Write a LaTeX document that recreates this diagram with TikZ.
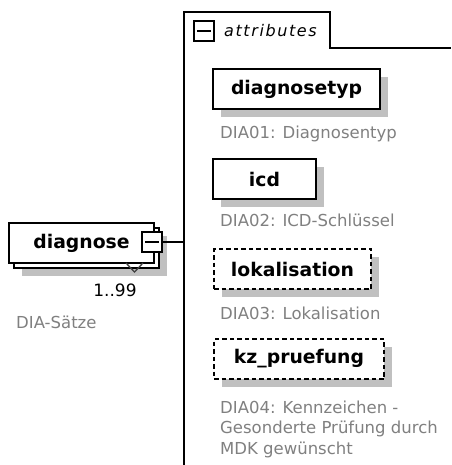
\documentclass[tikz,border=0pt]{standalone}
\usepackage{fontspec}
\setmainfont{DejaVu Sans}
\newfontfamily\attrfont[LetterSpace=10]{DejaVu Sans}
\usetikzlibrary{shadows}
\definecolor{shadowgray}{RGB}{192,192,192}
\definecolor{descgray}{RGB}{128,128,128}
\tikzset{
  elem/.style={draw=black, line width=2pt, fill=white, minimum height=40pt,
    inner sep=0pt, anchor=north west, font=\fontsize{18.8}{20}\selectfont\bfseries},
  shadowed/.style={drop shadow={shadow xshift=8pt, shadow yshift=-8pt, fill=shadowgray, opacity=1}},
  optional/.style={dash pattern=on 4.5pt off 3pt},
  minusbox/.style={draw=black, line width=1.7pt, fill=white, minimum size=20pt, inner sep=0pt},
  desc/.style={text=descgray, font=\fontsize{16.5}{20.5}\selectfont, anchor=base west, inner sep=0pt, align=left},
  frame/.style={line width=2pt},
}
\begin{document}
\begin{tikzpicture}[x=1pt,y=-1pt]
\useasboundingbox[fill=white] (0,0) rectangle (451,465);
% attributes group frame
\coordinate (ftop) at (184,12);
\coordinate (fbot) at (184,465);
\coordinate (tabr) at (330,12);
\coordinate (tabb) at (330,48);
\coordinate (fright) at (451,48);
\coordinate (attrjoin) at (184,242);
\draw[frame] (fbot) -- (ftop) -- (tabr) -- (tabb) -- (fright);
\node[minusbox] (aminus) at (204,31) {};
\draw[line width=1.7pt] ([xshift=4pt]aminus.west) -- ([xshift=-4pt]aminus.east);
\node[anchor=west, inner sep=0pt, font=\attrfont\fontsize{16}{18}\selectfont\itshape] (attrlbl) at (224,31) {attributes};
% diagnose element (repeating)
\node[elem, shadowed, minimum width=145pt] (diagback) at (13,227) {};
\node[elem, minimum width=145pt] (diagnose) at (8,222) {diagnose\hspace{8pt}};
\draw[line width=1.3pt, black!75] (126,263) -- (134.5,272) -- (143,263);
\node[minusbox] (dminus) at (152,242) {};
\draw[line width=1.7pt] ([xshift=4pt]dminus.west) -- ([xshift=-4pt]dminus.east);
\draw[frame] (dminus.east) -- (attrjoin);
\node[anchor=base, inner sep=0pt, font=\fontsize{17}{20}\selectfont] (mult) at (115,296) {1..99};
\node[desc] (diagdesc) at (16,328) {DIA-Sätze};
% attributes
\node[elem, shadowed, minimum width=167pt] (diagnosetyp) at (212,68) {diagnosetyp};
\node[desc] (d1) at (220,139) {DIA01: Diagnosentyp};
\node[elem, shadowed, minimum width=103pt] (icd) at (212,158) {icd};
\node[desc] (d2) at (220,226) {DIA02: ICD-Schlüssel};
\node[elem, shadowed, optional, minimum width=157pt] (lokalisation) at (213,248) {lokalisation};
\node[desc] (d3) at (220,319) {DIA03: Lokalisation};
\node[elem, shadowed, optional, minimum width=170pt] (kzpruefung) at (213,338) {kz\_pruefung};
\node[desc] (d4) at (220,454) {DIA04: Kennzeichen -\\Gesonderte Prüfung durch\\MDK gewünscht};
\end{tikzpicture}
\end{document}
